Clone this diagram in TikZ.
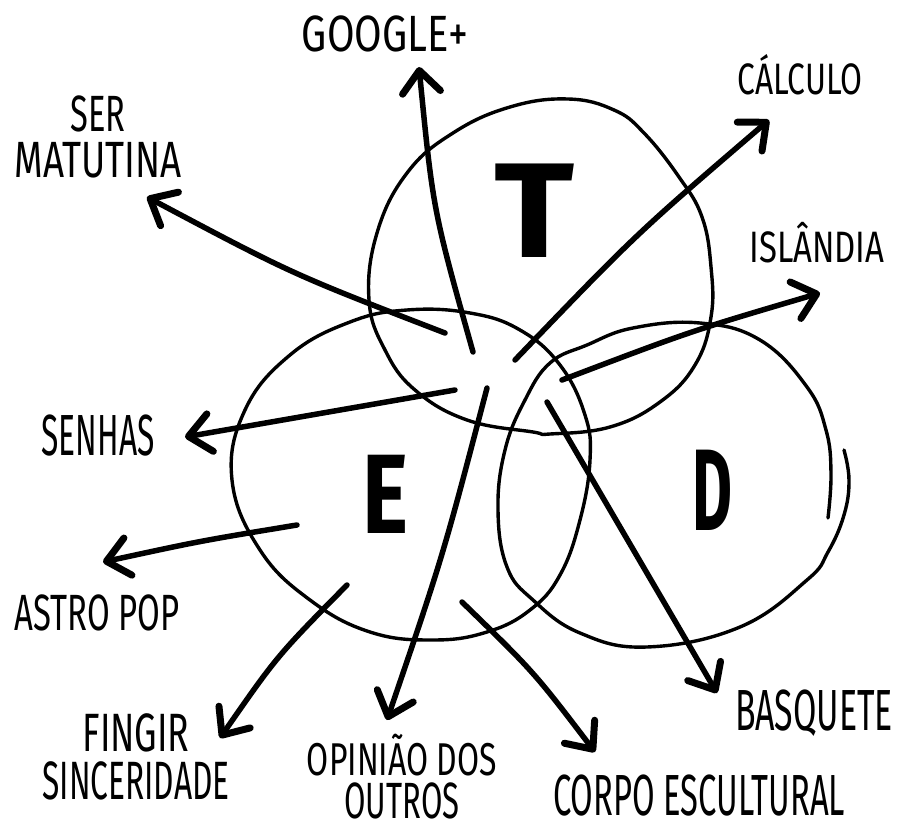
\documentclass[tikz,border=0pt]{standalone}
\usepackage{fontspec}
\setmainfont{Fira Sans}
\usetikzlibrary{arrows.meta}
\newcommand{\hlab}[3]{{\fontsize{#2}{#2}\selectfont\resizebox{#1}{\height}{#3}}}
\begin{document}
\begin{tikzpicture}[x=1pt,y=-1pt,
  ring/.style={line width=3.4pt, line join=round, line cap=round},
  arr/.style={line width=5.5pt, line cap=round, -{Straight Barb[length=22pt,width=38pt,line width=7pt,round]}},
  lab/.style={anchor=base, inner sep=0pt},
  lab2/.style={anchor=south, inner sep=0pt, align=center},
  big/.style={anchor=base, inner sep=0pt}]
\useasboundingbox (0,0) rectangle (898,824);
\fill[white] (0,0) rectangle (898,824);

% circles
\draw[ring] plot[smooth cycle, tension=0.7] coordinates {(369,300) (377,233) (407,173) (453,133) (510,107) (568,99) (614,110) (644,133) (679,177) (702,217) (711,267) (711,317) (695,365) (660,402) (610,427) (550,434) (533,432) (467,420) (415,390) (385,350)};
\draw[ring] plot[smooth cycle, tension=0.7] coordinates {(232,480) (245,410) (290,355) (350,322) (407,310) (470,313) (520,330) (560,365) (585,415) (590,460) (580,520) (560,575) (530,610) (487,632) (433,640) (370,632) (310,600) (260,550)};
\draw[ring] plot[smooth, tension=0.7] coordinates {(844,450) (849,480) (844,515) (828,552) (807,580) (740,627) (647,647) (580,633) (533,600) (507,567) (498,510) (505,450) (525,400) (550,363) (587,345) (633,328) (700,323) (760,340) (807,387) (826,430) (831,473) (828,518)};

% big letters
\node[big] (T) at (534,258) {\hlab{80pt}{135pt}{\bfseries T}};
\node[big] (E) at (385,533) {\hlab{46pt}{113pt}{\bfseries E}};
\node[big] (D) at (712,530) {\hlab{40pt}{116pt}{\bfseries D}};

% labels
\node[lab] (google) at (385,52) {\hlab{166pt}{51pt}{GOOGLE+}};
\node[lab] (calculo) at (800,95) {\hlab{125pt}{44pt}{CÁLCULO}};
\node[lab] (islandia) at (817,263) {\hlab{135pt}{44pt}{ISLÂNDIA}};
\node[lab2, font=\fontsize{51}{46}\selectfont] (ser) at (98,178) {\hlab{55pt}{51pt}{SER}\\\hlab{167pt}{51pt}{MATUTINA}};
\node[lab] (senhas) at (98,455) {\hlab{113pt}{58pt}{SENHAS}};
\node[lab] (astro) at (97,630) {\hlab{165pt}{51pt}{ASTRO POP}};
\node[lab2, font=\fontsize{54}{48}\selectfont] (fingir) at (136,800) {\hlab{107pt}{54pt}{FINGIR}\\\hlab{187pt}{54pt}{SINCERIDADE}};
\node[lab2, font=\fontsize{46}{43}\selectfont] (opiniao) at (402,819) {\hlab{190pt}{46pt}{OPINIÃO DOS}\\\hlab{115pt}{51pt}{OUTROS}};
\node[lab] (corpo) at (699,815) {\hlab{292pt}{58pt}{CORPO ESCULTURAL}};
\node[lab] (basquete) at (814,730) {\hlab{158pt}{58pt}{BASQUETE}};

% arrow ends
\coordinate (sGoogle) at (473,352);   \coordinate (tGoogle) at (419,67);
\coordinate (sCalc) at (515,360);     \coordinate (tCalc) at (769,120);
\coordinate (sSer) at (445,333);      \coordinate (tSer) at (147,197);
\coordinate (sIsl) at (562,380);      \coordinate (tIsl) at (820,293);
\coordinate (sSen) at (455,390);      \coordinate (tSen) at (185,437);
\coordinate (sAst) at (297,525);      \coordinate (tAst) at (103,562);
\coordinate (sFin) at (347,585);      \coordinate (tFin) at (220,738);
\coordinate (sOpi) at (487,388);      \coordinate (tOpi) at (387,720);
\coordinate (sCor) at (462,602);      \coordinate (tCor) at (595,752);
\coordinate (sBas) at (547,402);      \coordinate (tBas) at (717,693);

\draw[arr] (sGoogle) .. controls (433,210) .. (tGoogle);
\draw[arr] (sCalc) .. controls (636,234) .. (tCalc);
\draw[arr] (sSer) .. controls (292,274) .. (tSer);
\draw[arr] (sIsl) .. controls (691,331) .. (tIsl);
\draw[arr] (sSen) -- (tSen);
\draw[arr] (sAst) .. controls (200,541) .. (tAst);
\draw[arr] (sFin) .. controls (277,656) .. (tFin);
\draw[arr] (sOpi) .. controls (443,556) .. (tOpi);
\draw[arr] (sCor) .. controls (534,672) .. (tCor);
\draw[arr] (sBas) -- (tBas);
\end{tikzpicture}
\end{document}
